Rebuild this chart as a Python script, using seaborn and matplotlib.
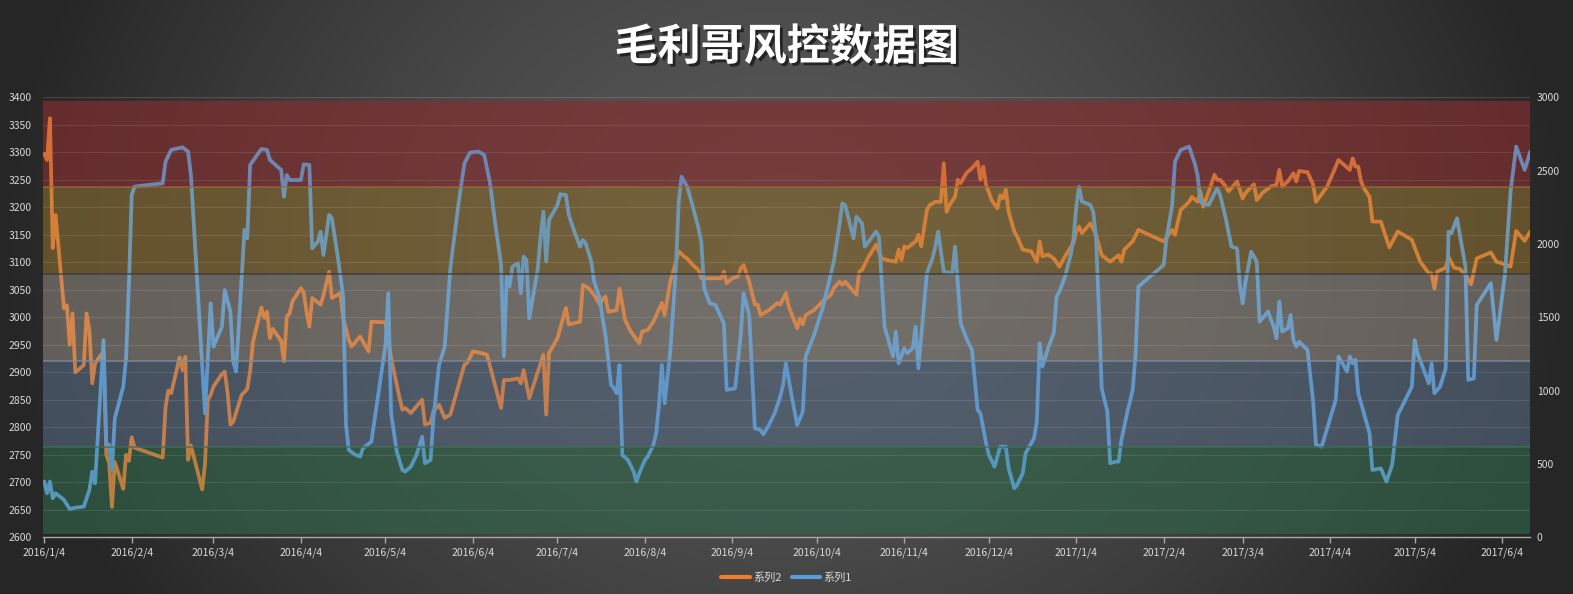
import numpy as np
import pandas as pd
import matplotlib
matplotlib.use("Agg")
import matplotlib.pyplot as plt
import matplotlib.patheffects as pe
import seaborn as sns

sns.set_theme(style="dark")
plt.rcParams["font.family"] = ["Noto Sans CJK SC", "DejaVu Sans"]
plt.rcParams["axes.unicode_minus"] = False

# ---------------- data ----------------
title = "毛利哥风控数据图"
start_date = "2016-01-04"          # day offsets below are counted from this date
s2_name = "系列2"
s1_name = "系列1"

s2_days = [0, 1, 2, 3, 4, 7, 8, 9, 10, 11, 14, 15, 16, 17, 18, 21, 22, 23, 24, 25, 28, 29, 30, 31, 32,
           42, 43, 44, 45, 48, 49, 50, 51, 52, 56, 57, 58, 59, 60, 63, 64, 65, 66, 67, 70, 71, 72, 73, 74,
           77, 78, 79, 80, 81, 84, 85, 86, 87, 88, 91, 92, 93, 94, 95, 98, 99, 101, 102, 105, 106, 108,
           109, 112, 115, 116, 121, 123, 126, 127, 128, 130, 134, 135, 137, 138, 140, 142, 144, 149, 150,
           152, 155, 157, 162, 163, 165, 168, 169, 170, 172, 177, 178, 179, 182, 185, 186, 190, 191, 193,
           195, 197, 198, 199, 200, 203, 204, 206, 208, 211, 212, 214, 216, 219, 220, 222, 224, 225, 227,
           228, 230, 232, 233, 236, 240, 241, 242, 244, 246, 247, 248, 250, 252, 253, 254, 257, 260, 261,
           263, 264, 267, 268, 269, 270, 273, 276, 279, 280, 282, 283, 284, 286, 288, 289, 290, 292, 295,
           297, 299, 302, 303, 304, 305, 306, 309, 310, 311, 313, 314, 316, 318, 319, 320, 321, 323, 324,
           325, 327, 329, 331, 332, 333, 334, 336, 338, 339, 340, 341, 342, 344, 345, 347, 350, 352, 353,
           354, 356, 358, 360, 362, 365, 366, 367, 368, 371, 373, 375, 378, 381, 382, 383, 386, 388, 397,
           400, 401, 403, 406, 407, 409, 410, 411, 413, 415, 416, 417, 419, 420, 423, 425, 426, 429, 430,
           432, 435, 437, 438, 439, 441, 443, 444, 445, 448, 450, 451, 455, 459, 463, 464, 465, 466, 467,
           468, 470, 471, 474, 477, 480, 485, 486, 488, 491, 492, 493, 494, 497, 498, 500, 502, 504, 506,
           508, 513, 515, 517, 520, 522, 525, 527]
s2_vals = [3297, 3286, 3362, 3126, 3186, 3016, 3022, 2950, 3007, 2900, 2913, 3007, 2976, 2880, 2916, 2938,
           2750, 2735, 2655, 2737, 2688, 2750, 2739, 2782, 2763,
           2745, 2837, 2867, 2862, 2927, 2904, 2928, 2741, 2767, 2687, 2733, 2850, 2859, 2874, 2897, 2901,
           2863, 2805, 2810, 2859, 2864, 2870, 2902, 2955,
           3018, 2999, 3010, 2962, 2979, 2957, 2920, 3001, 3007, 3029, 3053, 3045, 3010, 2983, 3035, 3023,
           3040, 3083, 3035, 3044, 2998, 2959,
           2947, 2965, 2938, 2992, 2991, 2926, 2853, 2832, 2835, 2826, 2850, 2805, 2808, 2829, 2841, 2817,
           2823, 2914, 2917,
           2938, 2935, 2932, 2835, 2886, 2886, 2889, 2880, 2904, 2853, 2932, 2823, 2935, 2962, 3017, 2987,
           2992, 3059, 3053,
           3041, 3023, 3032, 3038, 3010, 3013, 3052, 2995, 2974, 2953, 2974, 2977, 2992, 3026, 3004, 3065,
           3101, 3120, 3110,
           3107, 3095, 3086, 3071, 3071, 3071, 3083, 3062, 3071, 3074, 3089, 3095, 3065, 3023, 3023, 3004,
           3013, 3026, 3023,
           3044, 3020, 2980, 2998, 2987, 3004, 3013, 3029, 3041, 3053, 3065, 3059, 3065, 3053, 3041, 3083,
           3086, 3107, 3132,
           3107, 3104, 3101, 3123, 3104, 3129, 3126, 3138, 3150, 3129, 3195, 3204, 3210, 3210, 3280, 3192,
           3204, 3219, 3250,
           3244, 3262, 3271, 3283, 3250, 3274, 3241, 3213, 3198, 3222, 3216, 3232, 3192, 3156, 3147, 3123,
           3120, 3101, 3138,
           3111, 3114, 3107, 3092, 3111, 3135, 3156, 3165, 3153, 3171, 3150, 3113, 3101, 3113, 3101, 3123,
           3138, 3159, 3138,
           3159, 3150, 3195, 3210, 3219, 3210, 3229, 3201, 3229, 3259, 3250, 3250, 3238, 3229, 3247, 3216,
           3226, 3242, 3213,
           3226, 3238, 3241, 3268, 3238, 3247, 3262, 3247, 3266, 3264, 3241, 3210, 3238, 3286, 3268, 3289,
           3274, 3274, 3247,
           3235, 3219, 3174, 3174, 3127, 3156, 3141, 3127, 3101, 3080, 3080, 3052, 3083, 3090, 3110, 3090,
           3088, 3077, 3060,
           3107, 3118, 3101, 3098, 3092, 3157, 3139, 3156]

s1_days = [0, 1, 2, 3, 4, 7, 9, 11, 14, 16, 17, 18, 21, 22, 23, 24, 25, 28, 29, 30, 31, 32, 42, 43, 45,
           49, 51, 52, 57, 59, 60, 63, 64, 66, 67, 68, 71, 72, 73, 77, 79, 80, 84, 85, 86, 87, 91, 92, 94,
           95, 97, 98, 99, 101, 102, 104, 106, 107, 108, 110, 112, 113, 116, 121, 122, 123, 125, 127, 128,
           130, 132, 134, 135, 137, 138, 140, 142, 144, 147, 149, 151, 154, 156, 158, 160, 162, 163, 164,
           165, 166, 168, 169, 170, 171, 172, 175, 176, 177, 178, 179, 182, 183, 185, 186, 188, 190, 191,
           192, 194, 195, 197, 198, 199, 201, 202, 203, 204, 205, 207, 209, 210, 211, 213, 214, 216, 217,
           218, 219, 220, 222, 224, 225, 226, 228, 230, 232, 233, 234, 236, 238, 241, 242, 245, 247, 248,
           250, 252, 254, 255, 257, 259, 261, 262, 263, 265, 267, 269, 270, 273, 276, 278, 280, 282, 283,
           284, 287, 288, 290, 291, 295, 296, 298, 301, 302, 303, 305, 306, 308, 309, 310, 313, 315, 316,
           317, 319, 322, 323, 325, 327, 329, 331, 332, 334, 335, 337, 339, 341, 342, 344, 345, 347, 348,
           351, 352, 353, 354, 356, 358, 359, 360, 362, 364, 365, 366, 367, 368, 371, 372, 373, 374, 375,
           377, 378, 380, 381, 382, 384, 386, 387, 388, 397, 398, 400, 401, 403, 406, 408, 409, 410, 411,
           413, 415, 416, 417, 419, 421, 423, 424, 425, 426, 428, 430, 431, 432, 433, 434, 436, 437, 438,
           439, 441, 442, 443, 444, 445, 448, 450, 451, 453, 458, 459, 462, 463, 464, 465, 466, 470, 471,
           474, 476, 478, 480, 485, 486, 487, 491, 492, 493, 495, 497, 498, 499, 501, 504, 505, 507, 508,
           513, 515, 518, 520, 522, 525, 527]
s1_vals = [380, 300, 380, 266, 300, 255, 193, 202, 209, 323, 448, 368, 1345, 641, 630, 459, 811, 1027,
           1220, 1720, 2334, 2391, 2414, 2561, 2641,
           2659, 2630, 2470, 845, 1595, 1300, 1436, 1686, 1539, 1198, 1130, 2096, 2039, 2539, 2648, 2641,
           2573, 2505, 2323, 2470, 2436, 2436, 2543, 2539,
           1970, 2016, 2084, 1925, 2198, 2175, 1925, 1641, 766, 595, 566, 550, 607, 652, 1311, 1664, 845,
           584, 459, 448,
           482, 561, 686, 505, 527, 811, 1175, 1300, 1834, 2289, 2550, 2623, 2630, 2607, 2425, 2130, 1857,
           1232, 1777,
           1709, 1845, 1868, 1664, 1914, 1891, 1493, 1830, 2050, 2220, 1880, 2164, 2266, 2339, 2334, 2198,
           2084, 1982, 2027,
           2005, 1880, 1743, 1630, 1493, 1380, 1039, 1016, 982, 1175, 561, 527, 448, 380, 436, 527, 550,
           630, 709,
           902, 1175, 914, 1266, 1834, 2289, 2459, 2391, 2255, 2107, 2016, 1698, 1595, 1584, 1459, 1005,
           1016, 1380, 1664,
           1516, 743, 732, 702, 766, 845, 959, 1039, 1186, 970, 766, 857, 1232, 1380, 1561, 1720, 1880,
           2130, 2277,
           2266, 2039, 2186, 2141, 1982, 2084, 2050, 1436, 1232, 1402, 1186, 1289, 1255, 1289, 1436, 1152,
           1800, 1902, 1982,
           2084, 1811, 1800, 1982, 1459, 1357, 1277, 868, 845, 641, 561, 482, 618, 618, 470, 334, 357, 436,
           573,
           675, 789, 1323, 1164, 1289, 1391, 1641, 1675, 1777, 1925, 2039, 2255, 2391, 2289, 2266, 2220,
           2039, 1561, 1016,
           857, 505, 516, 516, 664, 845, 1005, 1243, 1709, 1857, 2039, 2266, 2561, 2641, 2664, 2550, 2470,
           2289, 2277,
           2266, 2345, 2380, 2334, 2175, 1982, 1970, 1720, 1595, 1743, 1948, 1880, 1470, 1493, 1516, 1539,
           1436, 1357, 1607,
           1402, 1425, 1516, 1345, 1300, 1334, 1277, 925, 630, 618, 936, 1232, 1130, 1232, 1186, 1209, 982,
           709, 459,
           470, 380, 493, 834, 1027, 1345, 1255, 1050, 1186, 982, 1027, 1152, 2084, 2073, 2175, 1845, 1073,
           1084, 1584,
           1732, 1345, 1789, 2357, 2664, 2505, 2630]

tick_labels = ["2016/1/4", "2016/2/4", "2016/3/4", "2016/4/4", "2016/5/4", "2016/6/4", "2016/7/4",
               "2016/8/4", "2016/9/4", "2016/10/4", "2016/11/4", "2016/12/4", "2017/1/4", "2017/2/4",
               "2017/3/4", "2017/4/4", "2017/5/4", "2017/6/4"]
left_ticks = list(range(2600, 3401, 50))
right_ticks = list(range(0, 3001, 500))
band_edges = [2606, 2764, 2921, 3078, 3236, 3394]   # risk zones, left-axis units
band_colors = ["#32644a", "#536479", "#827b73", "#82672f", "#852f2f"]
band_lines = ["#3f6e5a", "#7f8c9c", "#3a3a3a", "#9a6a38"]

# ---------------- figure ----------------
W, H = 1573, 594
fig = plt.figure(figsize=(W / 100, H / 100), dpi=100)

# radial dark-grey background
bg = fig.add_axes([0, 0, 1, 1], zorder=0)
yy, xx = np.mgrid[0:1:H * 1j, 0:1:W * 1j]
r = np.sqrt(((xx - 0.5) / 0.5) ** 2 + ((yy - 0.42) / 1.1) ** 2)
v = (88 - 50 * np.clip(r, 0, 1) ** 1.5) / 255.0
bg.imshow(np.dstack([v, v, v]), aspect="auto", extent=[0, 1, 0, 1], origin="upper")
bg.axis("off")

left, right, top, bottom = 43, 1530, 97.3, 537.3
ax = fig.add_axes([left / W, 1 - bottom / H, (right - left) / W, (bottom - top) / H], zorder=1)
ax.set_facecolor("none")
ax2 = ax.twinx()          # right axis for 系列1
ax2.patch.set_visible(False)
ax3 = ax.twinx()          # tint overlay of the zones, drawn on top of both lines
ax3.patch.set_visible(False)

start = pd.Timestamp(start_date)
s2_dates = start + pd.to_timedelta(s2_days, unit="D")
s1_dates = start + pd.to_timedelta(s1_days, unit="D")
tick_dates = pd.to_datetime(tick_labels, format="%Y/%m/%d")

# bands (base layer under lines + light tint layer over lines)
for i in range(len(band_colors)):
    ax.axhspan(band_edges[i], band_edges[i + 1], color=band_colors[i], alpha=0.5, lw=0, zorder=0.5)
    ax3.axhspan(band_edges[i], band_edges[i + 1], color=band_colors[i], alpha=0.3, lw=0, zorder=1)
for y, c in zip(band_edges[1:-1], band_lines):
    ax3.axhline(y, color=c, lw=1.2, alpha=0.8, zorder=1.1)

sns.lineplot(x=s2_dates, y=s2_vals, ax=ax, color="#F78A3C", lw=2.7, zorder=3,
             label=s2_name, legend=False)
sns.lineplot(x=s1_dates, y=s1_vals, ax=ax2, color="#66ADEB", lw=2.7, zorder=3,
             label=s1_name, legend=False)

ax.set_ylim(2600, 3400)
ax3.set_ylim(2600, 3400)
ax2.set_ylim(0, 3000)
ax.set_xlim(start - pd.Timedelta(hours=11), start + pd.Timedelta(days=526.9))
ax.set_yticks(left_ticks)
ax2.set_yticks(right_ticks)
ax3.set_yticks([])
ax.set_xticks(tick_dates)
ax.set_xticklabels(tick_labels)
for a in (ax, ax2, ax3):
    a.set_xlabel("")
    a.set_ylabel("")
    for s in a.spines.values():
        s.set_visible(False)
ax.spines["bottom"].set_visible(True)
ax.spines["bottom"].set_color("#a8a8a8")
ax.spines["bottom"].set_linewidth(1.0)

ax.grid(axis="y", color="white", alpha=0.14, lw=0.8)
ax.grid(axis="x", visible=False)
ax2.grid(False)
ax3.grid(False)
ax.set_axisbelow(False)

ax.tick_params(axis="x", bottom=True, length=4, width=1, color="#a8a8a8", pad=3,
               labelsize=7.5, labelcolor="#d9d9d9", direction="out")
ax.tick_params(axis="y", left=False, length=0, pad=8, labelsize=7.5, labelcolor="#d9d9d9")
ax2.tick_params(axis="y", right=False, length=0, pad=5, labelsize=7.5, labelcolor="#d9d9d9",
                labelright=True)
ax3.tick_params(axis="both", length=0, labelright=False, labelleft=False)

# legend
h2, l2 = ax.get_legend_handles_labels()
h1, l1 = ax2.get_legend_handles_labels()
for a in (ax, ax2):
    if a.get_legend() is not None:
        a.get_legend().remove()
leg = fig.legend(h2 + h1, l2 + l1, loc="center", bbox_to_anchor=(0.5, 1 - 578 / H), ncol=2,
                 frameon=False, fontsize=8, labelcolor="#d9d9d9", handlelength=2.6,
                 columnspacing=0.9, handletextpad=0.25)
leg.get_lines()[0].set_color("#ED7D31")
leg.get_lines()[1].set_color("#5B9BD5")
for lh in leg.get_lines():
    lh.set_linewidth(3)

fig.text(0.5, 1 - 47 / H, title, ha="center", va="center", fontsize=31, fontweight="bold",
         color="white",
         path_effects=[pe.withSimplePatchShadow(offset=(2, -2), shadow_rgbFace="black", alpha=0.55)])

fig.savefig("out.png", dpi=100)
